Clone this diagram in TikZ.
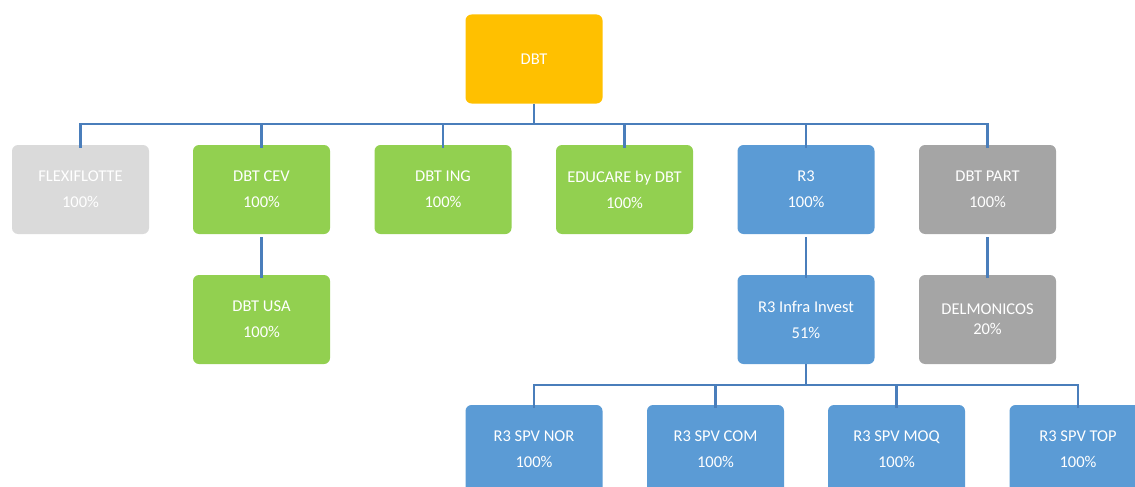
\documentclass[tikz,border=0pt]{standalone}
\usepackage{fontspec}
\setmainfont{Carlito}
\definecolor{cOrange}{HTML}{FFC000}
\definecolor{cGreen}{HTML}{92D050}
\definecolor{cBlue}{HTML}{5B9BD5}
\definecolor{cGray}{HTML}{A5A5A5}
\definecolor{cLight}{HTML}{DADADA}
\definecolor{cLine}{HTML}{4A7EBB}
\begin{document}
\begin{tikzpicture}[x=1pt,y=-1pt,
  box/.style={rectangle, rounded corners=6pt, minimum width=137pt, minimum height=89pt,
    inner sep=0pt, text=white, align=center, font=\fontsize{16.5}{26}\selectfont},
  link/.style={draw=cLine, line width=2.4pt}]
\useasboundingbox (0,0) rectangle (1135,487);
\clip (0,0) rectangle (1135,487);
\node[box, fill=cOrange] (dbt) at (534,59) {DBT};
\node[box, fill=cLight] (flex) at (80.5,189.5) {FLEXIFLOTTE\\100\%};
\node[box, fill=cGreen] (cev) at (261.5,189.5) {DBT CEV\\100\%};
\node[box, fill=cGreen] (ing) at (443,189.5) {DBT ING\\100\%};
\node[box, fill=cGreen] (edu) at (624.5,189.5) {EDUCARE by DBT\\100\%};
\node[box, fill=cBlue] (r3) at (806,189.5) {R3\\100\%};
\node[box, fill=cGray] (part) at (987.5,189.5) {DBT PART\\100\%};
\node[box, fill=cGreen] (usa) at (261.5,319.5) {DBT USA\\100\%};
\node[box, fill=cBlue] (infra) at (806,319.5) {R3 Infra Invest\\51\%};
\node[box, fill=cGray, font=\fontsize{16.5}{20}\selectfont] (delm) at (987.5,319.5) {DELMONICOS\\20\%};
\node[box, fill=cBlue] (nor) at (534,449.5) {R3 SPV NOR\\100\%};
\node[box, fill=cBlue] (com) at (715.5,449.5) {R3 SPV COM\\100\%};
\node[box, fill=cBlue] (moq) at (896.5,449.5) {R3 SPV MOQ\\100\%};
\node[box, fill=cBlue] (top) at (1078,449.5) {R3 SPV TOP\\100\%};
% top bus
\coordinate (busA) at (534,124);
\draw[link] (dbt.south) -- (busA);
\foreach \n in {flex,cev,ing,edu,r3,part}
  \draw[link] (dbt.south) ++(0,20) -| ([yshift=-3pt]\n.north);
\draw[link] (cev.south) ++(0,3) -- ([yshift=-3pt]usa.north);
\draw[link] (r3.south) ++(0,3) -- ([yshift=-3pt]infra.north);
\draw[link] (part.south) ++(0,3) -- ([yshift=-3pt]delm.north);
% bottom bus
\coordinate (busB) at (806,385);
\draw[link] (infra.south) -- (busB);
\foreach \n in {nor,com,moq,top}
  \draw[link] (infra.south) ++(0,20.5) -| ([yshift=-3pt]\n.north);
\end{tikzpicture}
\end{document}
